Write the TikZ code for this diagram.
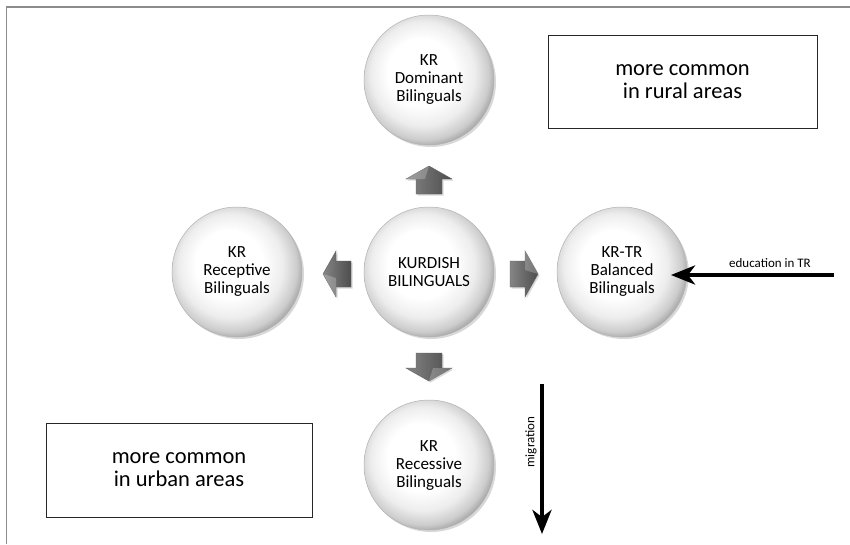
\documentclass[tikz,border=0pt]{standalone}
\usepackage{fontspec}
\setmainfont{Carlito}
\usetikzlibrary{shadows,arrows.meta}
\pgfdeclareradialshading{ballsh}{\pgfpoint{-4bp}{4bp}}{%
  color(0bp)=(white); color(13bp)=(white); color(20bp)=(black!7);
  color(25bp)=(black!20); color(28bp)=(black!38); color(31bp)=(black!55);
  color(50bp)=(black!55)}
\tikzset{
  ball/.style={circle, minimum size=130pt, inner sep=0pt, shading=ballsh,
    draw=black!30, line width=0.5pt,
    drop shadow={shadow xshift=2pt, shadow yshift=-2pt, opacity=0.3},
    align=center, font=\fontsize{17}{18}\selectfont},
  notebox/.style={draw=black!85, line width=1pt, fill=white, align=center,
    font=\fontsize{22.5}{23}\selectfont},
  conn/.style={line width=4.5pt, -{Stealth[length=24pt,width=19pt,inset=7pt]}},
  lbl/.style={font=\fontsize{13}{14}\selectfont, inner sep=0pt},
  blockarr/.pic={
    \path[left color=black!48, right color=black!70, draw=black!62, line width=0.4pt,
      drop shadow={shadow xshift=1.5pt, shadow yshift=-1.5pt, opacity=0.3}]
      (-14,-13) -- (1,-13) -- (1,-23) -- (14,0) -- (1,23) -- (1,13) -- (-14,13) -- cycle;
    \path[fill=white, opacity=0.22] (1,-13) -- (1,-23) -- (14,0) -- (1,-4) -- cycle;
  }
}
\begin{document}
\begin{tikzpicture}[x=1pt,y=-1pt]
\useasboundingbox (0,0) rectangle (850,544);
\fill[white] (0,0) rectangle (850,544);
\draw[black!45, line width=1.5pt] (850,7) -- (6.5,7) -- (6.5,544);

\node[notebox, minimum width=269pt, minimum height=93pt] (rural) at (682.5,81.5) {more common\\in rural areas};
\node[notebox, minimum width=266pt, minimum height=94pt] (urban) at (179,470) {more common\\in urban areas};

\node[ball] (top) at (429,80) {KR\\Dominant\\Bilinguals};
\node[ball] (mid) at (429,272) {KURDISH\\BILINGUALS};
\node[ball] (left) at (237,272) {KR\\Receptive\\Bilinguals};
\node[ball] (right) at (622,272) {KR-TR\\Balanced\\Bilinguals};
\node[ball] (bot) at (429,465) {KR\\Recessive\\Bilinguals};

\pic[rotate=90] (up) at (429,180) {blockarr};
\pic (rt) at (524,274) {blockarr};
\pic[rotate=180] (lt) at (337,274) {blockarr};
\pic[rotate=-90] (dn) at (429,367) {blockarr};

\coordinate (edustart) at (834,275);
\coordinate (eduend) at (671,275);
\draw[conn] (edustart) -- (eduend);
\node[lbl] (edulbl) at (770,263) {education in TR};

\coordinate (migstart) at (542,384);
\coordinate (migend) at (542,534);
\draw[conn] (migstart) -- (migend);
\node[lbl, rotate=90] (miglbl) at (531,442) {migration};
\end{tikzpicture}
\end{document}
